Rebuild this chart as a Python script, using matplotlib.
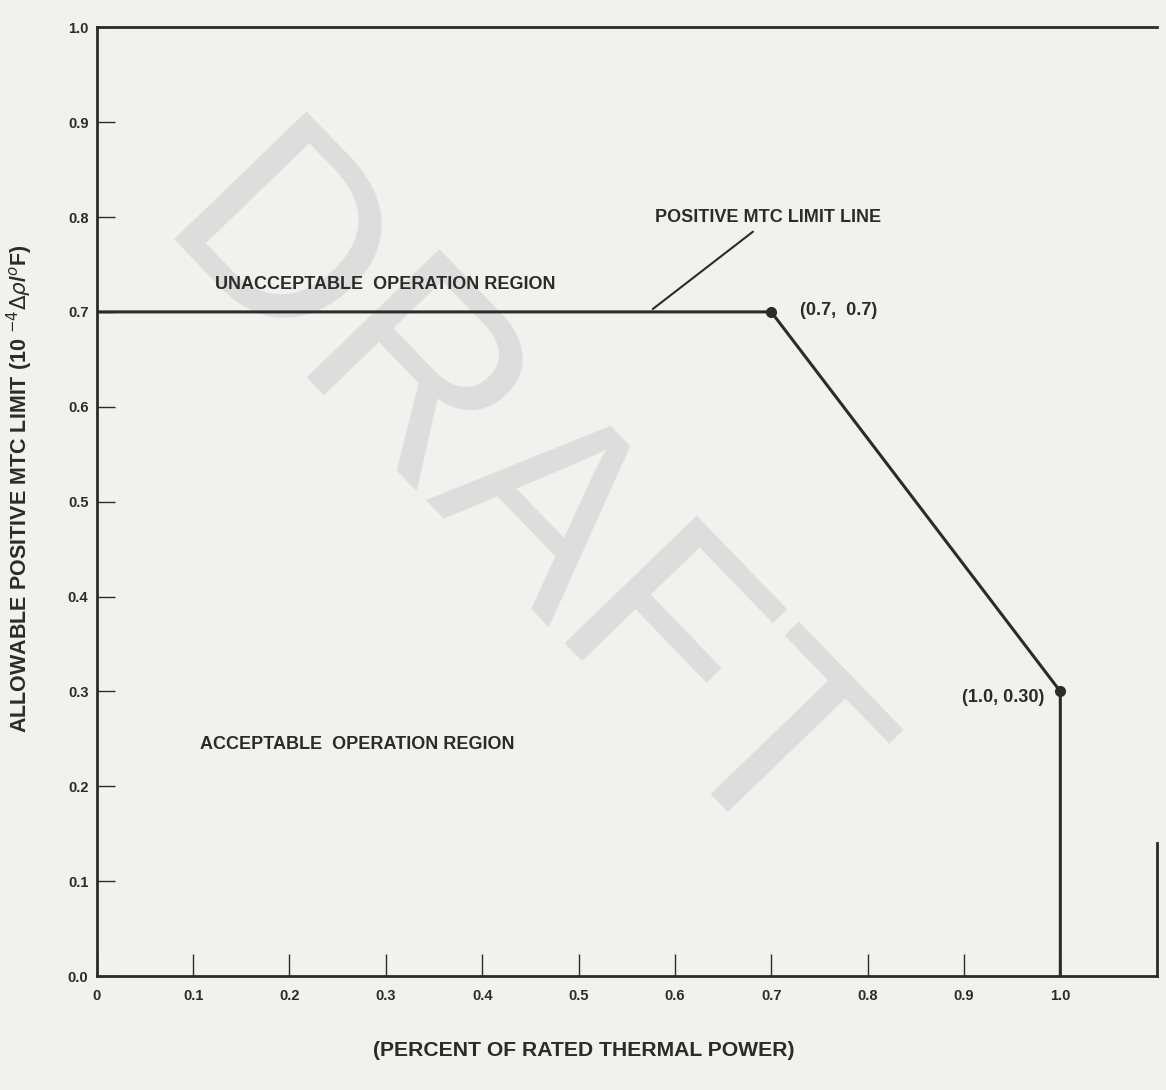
import matplotlib

matplotlib.use("Agg")
import matplotlib.pyplot as plt

plt.rcParams["font.family"] = ["Liberation Sans", "DejaVu Sans"]

# limit line: power fraction vs allowable positive MTC
power = [0.0, 0.7, 1.0, 1.0]
mtc_limit = [0.7, 0.7, 0.30, 0.0]
marked_power = [0.7, 1.0]
marked_mtc = [0.7, 0.30]

x_ticks = [0.0, 0.1, 0.2, 0.3, 0.4, 0.5, 0.6, 0.7, 0.8, 0.9, 1.0]
x_tick_labels = ["0", "0.1", "0.2", "0.3", "0.4", "0.5", "0.6", "0.7", "0.8", "0.9", "1.0"]
y_ticks = [0.0, 0.1, 0.2, 0.3, 0.4, 0.5, 0.6, 0.7, 0.8, 0.9, 1.0]
y_tick_labels = ["0.0", "0.1", "0.2", "0.3", "0.4", "0.5", "0.6", "0.7", "0.8", "0.9", "1.0"]

ink = "#2b2b2b"
paper = "#f1f1ef"

fig = plt.figure(figsize=(11.66, 10.90), dpi=100, facecolor=paper)
ax = fig.add_axes([0.083, 0.1045, 0.909, 0.8705])
ax.set_facecolor(paper)

# watermark
ax.text(0.428, 0.491, "DRAFT", fontsize=192, fontweight="normal",
        color="#dddddd", rotation=-46, ha="center", va="center", zorder=0)

ax.plot(power, mtc_limit, color=ink, linewidth=2.2, zorder=3)
ax.plot(marked_power, marked_mtc, "o", color=ink, markersize=7, zorder=4)

ax.set_xlim(0, 1.1)
ax.set_ylim(0, 1.0)
ax.set_xticks(x_ticks)
ax.set_xticklabels(x_tick_labels)
ax.set_yticks(y_ticks)
ax.set_yticklabels(y_tick_labels)
ax.tick_params(direction="in", width=1.0, color=ink, labelcolor=ink, labelsize=10.5)
ax.tick_params(axis="x", length=16, pad=9)
ax.tick_params(axis="y", length=13, pad=6)
for lab in ax.get_xticklabels() + ax.get_yticklabels():
    lab.set_fontweight("bold")

for side in ["left", "bottom", "top", "right"]:
    ax.spines[side].set_color(ink)
    ax.spines[side].set_linewidth(2.0)
ax.spines["right"].set_bounds(0, 0.14)

ax.text(0.123, 0.729, "UNACCEPTABLE  OPERATION REGION", fontsize=13, fontweight="bold",
        color=ink, ha="left", va="center")
ax.text(0.107, 0.244, "ACCEPTABLE  OPERATION REGION", fontsize=13, fontweight="bold",
        color=ink, ha="left", va="center")
ax.text(0.730, 0.701, "(0.7,  0.7)", fontsize=13, fontweight="bold", color=ink,
        ha="left", va="center")
ax.text(0.983, 0.294, "(1.0, 0.30)", fontsize=13, fontweight="bold", color=ink,
        ha="right", va="center")
ax.annotate("POSITIVE MTC LIMIT LINE", xy=(0.577, 0.703), xytext=(0.579, 0.80),
            fontsize=13, fontweight="bold", color=ink, ha="left", va="center",
            arrowprops=dict(arrowstyle="-", color=ink, linewidth=1.5,
                            shrinkA=4, shrinkB=0, relpos=(0.47, 0.0)))

ax.set_ylabel("ALLOWABLE POSITIVE MTC LIMIT (10 $^{-4}$$\\Delta\\rho$/$^{o}$F)",
              fontsize=15.5, fontweight="bold", color=ink)
ax.yaxis.set_label_coords(-0.058, 0.514)
ax.set_xlabel("(PERCENT OF RATED THERMAL POWER)", fontsize=15.2, fontweight="bold", color=ink)
ax.xaxis.set_label_coords(0.459, -0.068)

fig.savefig("out.png", dpi=100, facecolor=paper)
plt.close(fig)
